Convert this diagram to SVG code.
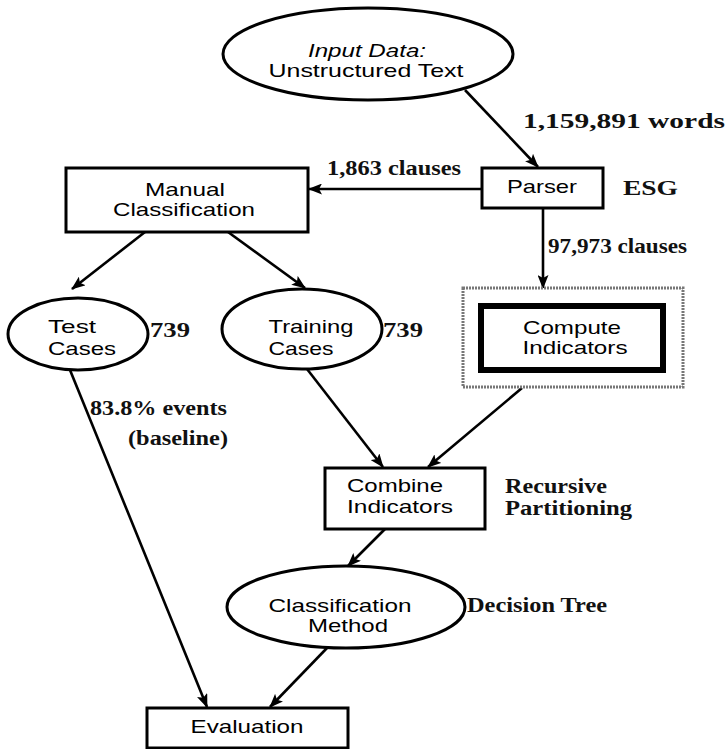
<svg xmlns="http://www.w3.org/2000/svg" width="727" height="749" viewBox="0 0 727 749">
<style>
.bg{fill:#fff}
.node{fill:#fff;stroke:#000;stroke-width:3}
.outer{fill:#fff;stroke:#777;stroke-width:3;stroke-dasharray:2 1}
.inner{fill:#fff;stroke:#000;stroke-width:6}
.lbl{font-family:"Liberation Sans",Arial,sans-serif;font-size:19px;fill:#000;text-anchor:middle}
.it{font-style:italic}
.ann{font-family:"Liberation Serif","Times New Roman",serif;font-weight:bold;font-size:20px;fill:#111}
.edge{fill:none;stroke:#000;stroke-width:2.6}
</style>
<defs>
<marker id="ah" markerUnits="userSpaceOnUse" markerWidth="14" markerHeight="11" refX="13" refY="5.5" orient="auto">
<path d="M0,0 L14,5.5 L0,11 L3,5.5 Z" fill="#000"/>
</marker>
</defs>
<rect class="bg" x="0" y="0" width="727" height="749"/>
<g id="connectors">
<line class="edge" x1="465" y1="90" x2="538" y2="167" marker-end="url(#ah)"/>
<line class="edge" x1="482" y1="189" x2="309" y2="189" marker-end="url(#ah)"/>
<line class="edge" x1="543" y1="208" x2="543" y2="288" marker-end="url(#ah)"/>
<line class="edge" x1="145" y1="232" x2="72" y2="289" marker-end="url(#ah)"/>
<line class="edge" x1="228" y1="232" x2="305" y2="288" marker-end="url(#ah)"/>
<line class="edge" x1="307" y1="369" x2="383" y2="467" marker-end="url(#ah)"/>
<line class="edge" x1="522" y1="388" x2="428" y2="467" marker-end="url(#ah)"/>
<line class="edge" x1="70" y1="370" x2="207" y2="707" marker-end="url(#ah)"/>
<line class="edge" x1="385" y1="529" x2="348" y2="566" marker-end="url(#ah)"/>
<line class="edge" x1="327" y1="648" x2="270" y2="707" marker-end="url(#ah)"/>
<text class="ann" x="523" y="128" font-size="24" textLength="202" lengthAdjust="spacingAndGlyphs">1,159,891 words</text>
<text class="ann" x="327" y="175" textLength="134" lengthAdjust="spacingAndGlyphs">1,863 clauses</text>
<text class="ann" x="548" y="253" textLength="139" lengthAdjust="spacingAndGlyphs">97,973 clauses</text>
<text class="ann" x="90" y="415" textLength="137" lengthAdjust="spacingAndGlyphs">83.8% events</text>
<text class="ann" x="128" y="445" textLength="100" lengthAdjust="spacingAndGlyphs">(baseline)</text>
</g>
<g id="input">
<ellipse class="node" cx="368" cy="54" rx="145" ry="46"/>
<text class="lbl it" x="367" y="57" textLength="118" lengthAdjust="spacingAndGlyphs">Input Data:</text>
<text class="lbl" x="366" y="77" textLength="195" lengthAdjust="spacingAndGlyphs">Unstructured Text</text>
</g>
<g id="parser">
<rect class="node" x="482" y="168" width="121" height="40"/>
<text class="lbl" x="542" y="193" textLength="70" lengthAdjust="spacingAndGlyphs">Parser</text>
<text class="ann" x="623" y="195" font-size="24" textLength="55" lengthAdjust="spacingAndGlyphs">ESG</text>
</g>
<g id="manual">
<rect class="node" x="66" y="168" width="242" height="64"/>
<text class="lbl" x="185" y="196" textLength="80" lengthAdjust="spacingAndGlyphs">Manual</text>
<text class="lbl" x="184" y="216" textLength="142" lengthAdjust="spacingAndGlyphs">Classification</text>
</g>
<g id="compute">
<rect class="outer" x="463" y="288" width="220" height="99"/>
<rect class="inner" x="481" y="306" width="182" height="64"/>
<text class="lbl" x="572" y="334" textLength="98" lengthAdjust="spacingAndGlyphs">Compute</text>
<text class="lbl" x="575" y="354" textLength="105" lengthAdjust="spacingAndGlyphs">Indicators</text>
</g>
<g id="test">
<ellipse class="node" cx="78" cy="334" rx="70" ry="36"/>
<text class="lbl" x="72" y="333" textLength="48" lengthAdjust="spacingAndGlyphs">Test</text>
<text class="lbl" x="82" y="355" textLength="68" lengthAdjust="spacingAndGlyphs">Cases</text>
<text class="ann" x="150" y="337" font-size="22" textLength="40" lengthAdjust="spacingAndGlyphs">739</text>
</g>
<g id="training">
<ellipse class="node" cx="302" cy="329" rx="80" ry="40"/>
<text class="lbl" x="311" y="333" textLength="85" lengthAdjust="spacingAndGlyphs">Training</text>
<text class="lbl" x="301" y="355" textLength="65" lengthAdjust="spacingAndGlyphs">Cases</text>
<text class="ann" x="383" y="337" font-size="22" textLength="40" lengthAdjust="spacingAndGlyphs">739</text>
</g>
<g id="combine">
<rect class="node" x="325" y="468" width="160" height="61"/>
<text class="lbl" x="395" y="492" textLength="96" lengthAdjust="spacingAndGlyphs">Combine</text>
<text class="lbl" x="400" y="513" textLength="106" lengthAdjust="spacingAndGlyphs">Indicators</text>
<text class="ann" x="505" y="493" textLength="102" lengthAdjust="spacingAndGlyphs">Recursive</text>
<text class="ann" x="505" y="515" textLength="127" lengthAdjust="spacingAndGlyphs">Partitioning</text>
</g>
<g id="classification">
<ellipse class="node" cx="346" cy="607" rx="119" ry="41"/>
<text class="lbl" x="340" y="612" textLength="143" lengthAdjust="spacingAndGlyphs">Classification</text>
<text class="lbl" x="348" y="632" textLength="80" lengthAdjust="spacingAndGlyphs">Method</text>
<text class="ann" x="467" y="612" textLength="140" lengthAdjust="spacingAndGlyphs">Decision Tree</text>
</g>
<g id="evaluation">
<rect class="node" x="147" y="708" width="201" height="40"/>
<text class="lbl" x="247" y="733" textLength="113" lengthAdjust="spacingAndGlyphs">Evaluation</text>
</g>
</svg>
